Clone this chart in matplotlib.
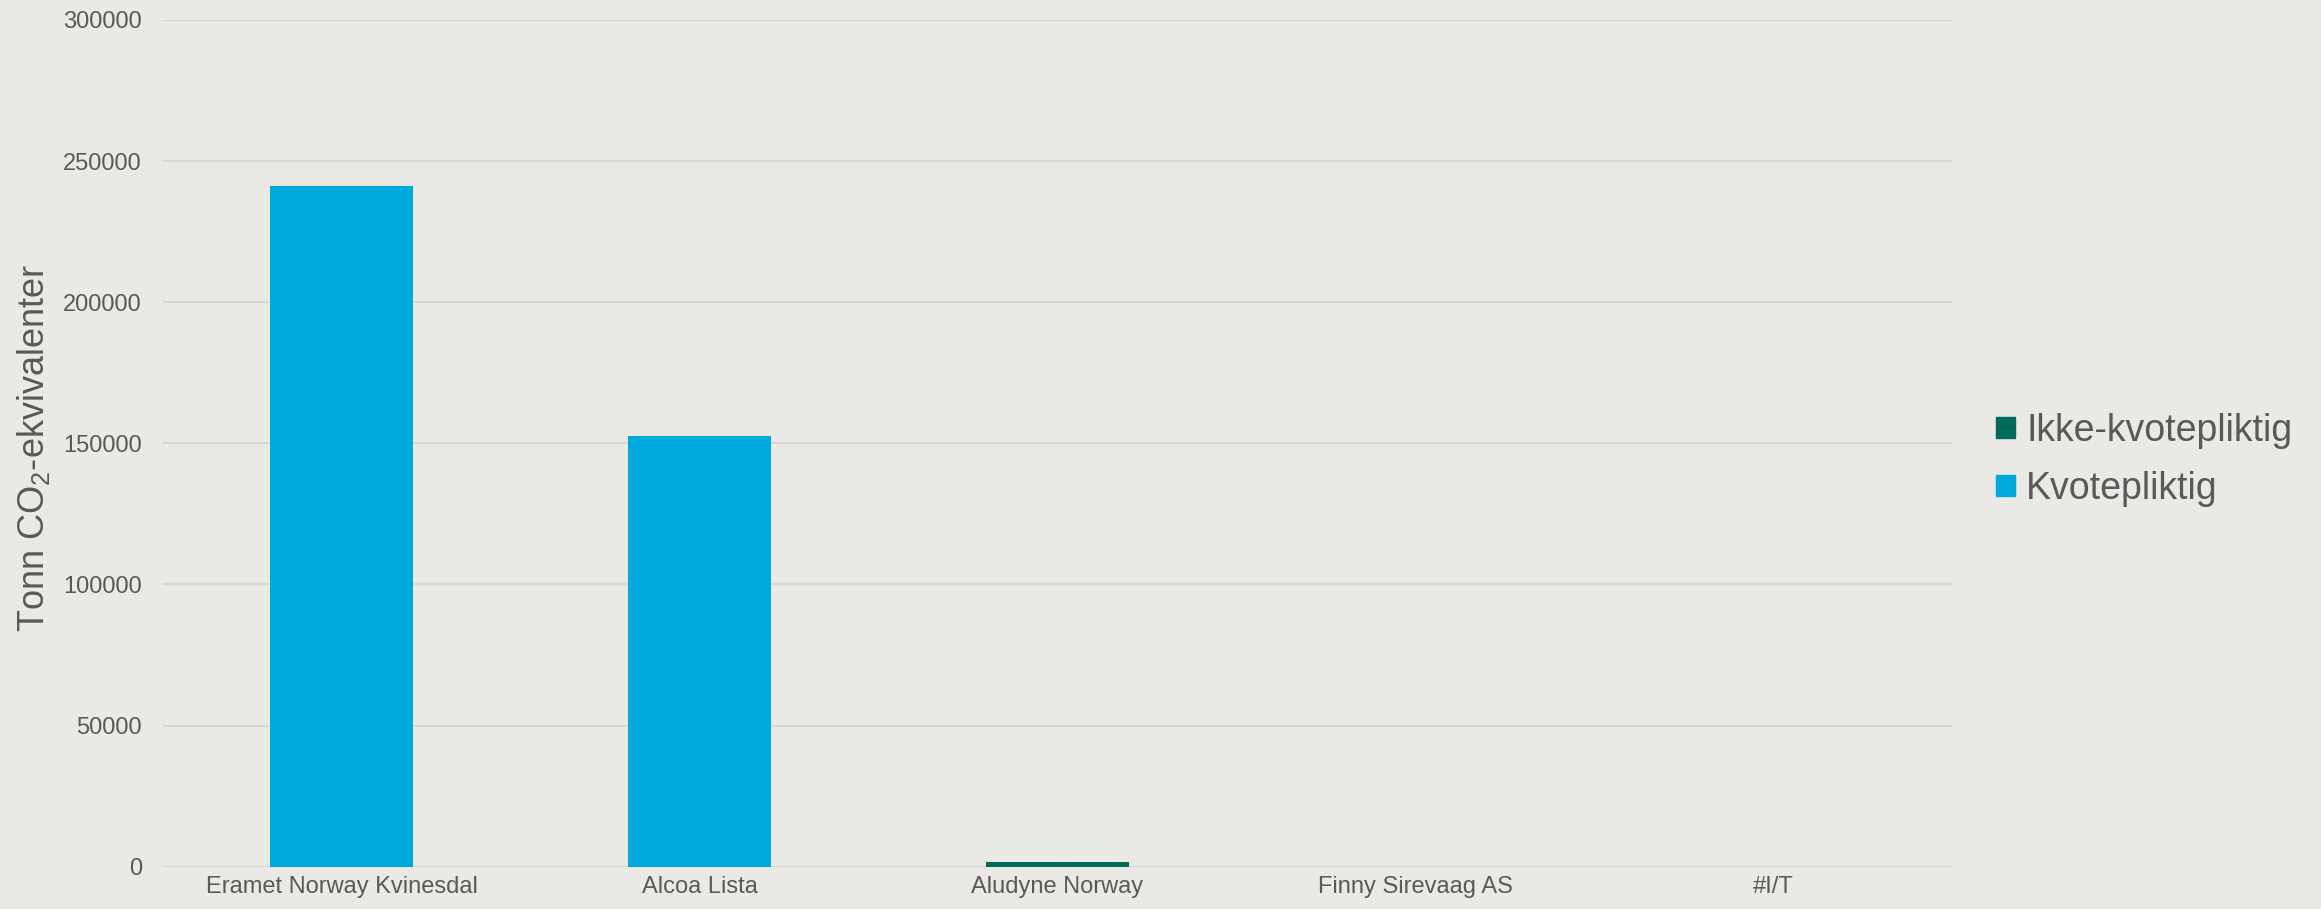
import numpy as np
import matplotlib.pyplot as plt
from matplotlib.patches import Patch
from matplotlib import font_manager

# Data
categories = ['Eramet Norway Kvinesdal', 'Alcoa Lista', 'Aludyne Norway',
              'Finny Sirevaag AS', '#I/T']
ikke_kvote = [0, 0, 1800, 0, 0]
kvote = [241200, 152600, 0, 0, 0]
yticks = [0, 50000, 100000, 150000, 200000, 250000, 300000]

bg = '#EBE9E5'
green = '#006B5A'
blue = '#00A9DB'
txt = '#595959'

names = {f.name for f in font_manager.fontManager.ttflist}
narrow = 'Liberation Sans Narrow' if 'Liberation Sans Narrow' in names else 'Liberation Sans'

plt.rcParams['font.family'] = ['Liberation Sans', 'DejaVu Sans']
plt.rcParams['mathtext.fontset'] = 'custom'
plt.rcParams['mathtext.rm'] = narrow

fig = plt.figure(figsize=(23.21, 9.09), dpi=100, facecolor=bg)
ax = fig.add_axes([0.0702, 0.0465, 0.7708, 0.9315], facecolor=bg)

x = np.arange(len(categories))
ax.bar(x, ikke_kvote, width=0.4, color=green, zorder=3)
ax.bar(x, kvote, width=0.4, bottom=ikke_kvote, color=blue, zorder=3)

ax.set_xlim(-0.5, len(categories) - 0.5)
ax.set_ylim(0, 300000)
ax.set_yticks(yticks)
ax.set_yticklabels([str(v) for v in yticks])
ax.set_xticks(x)
ax.set_xticklabels(categories)
ax.tick_params(axis='both', length=0, labelsize=17, colors=txt)
ax.tick_params(axis='y', pad=15)
ax.tick_params(axis='x', pad=7)
ax.grid(axis='y', color='#D9D8D5', linewidth=1.5, zorder=0)
for s in ax.spines.values():
    s.set_visible(False)

# y-akse tittel (smalere font i originalen)
ysize = 28 if narrow != 'Liberation Sans' else 26
fig.text(0.0146, 0.507, 'Tonn CO$_2$-ekvivalenter', rotation=90, fontsize=ysize,
         color=txt, family=narrow, ha='center', va='center')

handles = [Patch(color=green, label='Ikke-kvotepliktig'),
           Patch(color=blue, label='Kvotepliktig')]
fig.legend(handles=handles, loc='center left', bbox_to_anchor=(0.8455, 0.494),
           frameon=False, fontsize=27, handlelength=0.5, handleheight=0.5,
           handletextpad=0.3, labelspacing=0.58, labelcolor=txt)

fig.savefig('out.png', dpi=100, facecolor=bg)
